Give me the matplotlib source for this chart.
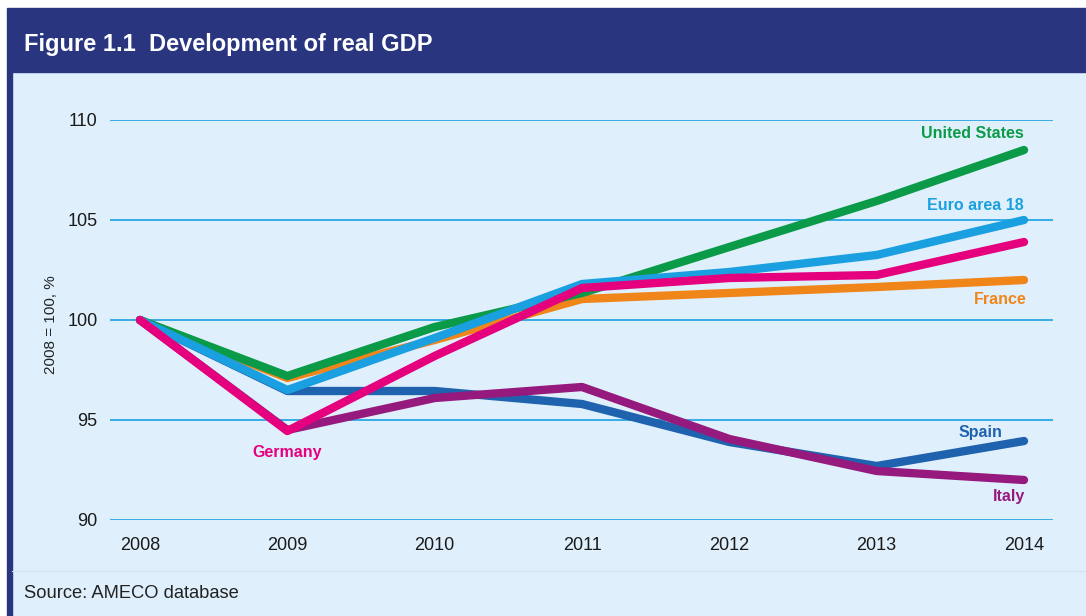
import matplotlib.pyplot as plt
from matplotlib.patches import Rectangle
from matplotlib.lines import Line2D

plt.rcParams['font.family'] = ['Liberation Sans', 'DejaVu Sans']

years = [2008, 2009, 2010, 2011, 2012, 2013, 2014]
spain = [100, 96.45, 96.45, 95.8, 93.9, 92.7, 93.95]
italy = [100, 94.5, 96.1, 96.65, 94.05, 92.45, 92.0]
france = [100, 97.1, 99.0, 101.05, 101.35, 101.65, 102.0]
united_states = [100, 97.2, 99.65, 101.35, 103.65, 105.95, 108.5]
euro_area = [100, 96.5, 99.1, 101.8, 102.4, 103.25, 105.0]
germany = [100, 94.45, 98.2, 101.6, 102.1, 102.25, 103.9]

yticks = [90, 95, 100, 105, 110]

series = [
    ("Spain", spain, "#1f62ad"),
    ("Italy", italy, "#96197e"),
    ("France", france, "#f08519"),
    ("United States", united_states, "#0a9a48"),
    ("Euro area 18", euro_area, "#1aa0e0"),
    ("Germany", germany, "#e5007e"),
]

# label anchor: (x, y, horizontal alignment)
label_pos = {
    "United States": (2014.0, 109.3, "right"),
    "Euro area 18": (2014.0, 105.7, "right"),
    "France": (2014.02, 101.0, "right"),
    "Spain": (2013.85, 94.35, "right"),
    "Italy": (2014.01, 91.2, "right"),
    "Germany": (2009.0, 93.4, "center"),
}

W, H = 1086, 616
fig = plt.figure(figsize=(W / 100, H / 100), dpi=100)
fig.patch.set_facecolor("white")

bg = "#dff0fc"
navy = "#29367f"
# panel background, header band and left rule
fig.patches.append(Rectangle((12 / W, 0), 1 - 12 / W, 1 - 72 / H,
                             transform=fig.transFigure, color=bg, zorder=0))
fig.patches.append(Rectangle((7 / W, 1 - 72 / H), 1 - 7 / W, 64 / H,
                             transform=fig.transFigure, color=navy, zorder=1))
fig.patches.append(Rectangle((7 / W, 0), 5 / W, 1 - 72 / H,
                             transform=fig.transFigure, color=navy, zorder=1))
fig.lines.append(Line2D([12 / W, 1], [1 - 571 / H, 1 - 571 / H],
                        transform=fig.transFigure, color="#cfe3f2", lw=0.8))

fig.text(24 / W, 1 - 44 / H, "Figure 1.1  Development of real GDP",
         color="white", fontsize=17, fontweight="bold", va="center")
fig.text(24 / W, 1 - 593 / H, "Source: AMECO database",
         color="#222222", fontsize=13.2, va="center")
fig.text(51 / W, 1 - 325 / H, "2008 = 100, %", rotation=90,
         color="#222222", fontsize=11, va="center", ha="center")

ax = fig.add_axes([110 / W, 1 - 520 / H, 943 / W, 400 / H])
ax.set_zorder(5)
ax.set_facecolor("none")
ax.set_xlim(2008 - 30 / 147.33, 2014 + 29 / 147.33)
ax.set_ylim(90, 110)
ax.set_yticks(yticks)
ax.set_xticks(years)
ax.set_xticklabels([str(y) for y in years])
for s in ax.spines.values():
    s.set_visible(False)
ax.tick_params(length=0, labelsize=13, colors="#1a1a1a")
ax.tick_params(axis="y", pad=9)
ax.tick_params(axis="x", pad=12)
for y in yticks:
    ax.axhline(y, color="#36abe6", lw=1.4, zorder=1)

for name, vals, col in series:
    ax.plot(years, vals, color=col, lw=6, solid_capstyle="round",
            solid_joinstyle="round", zorder=3)
    lx, ly, ha = label_pos[name]
    ax.text(lx, ly, name, color=col, fontsize=11.5, fontweight="bold",
            ha=ha, va="center")

fig.savefig("out.png", dpi=100)
